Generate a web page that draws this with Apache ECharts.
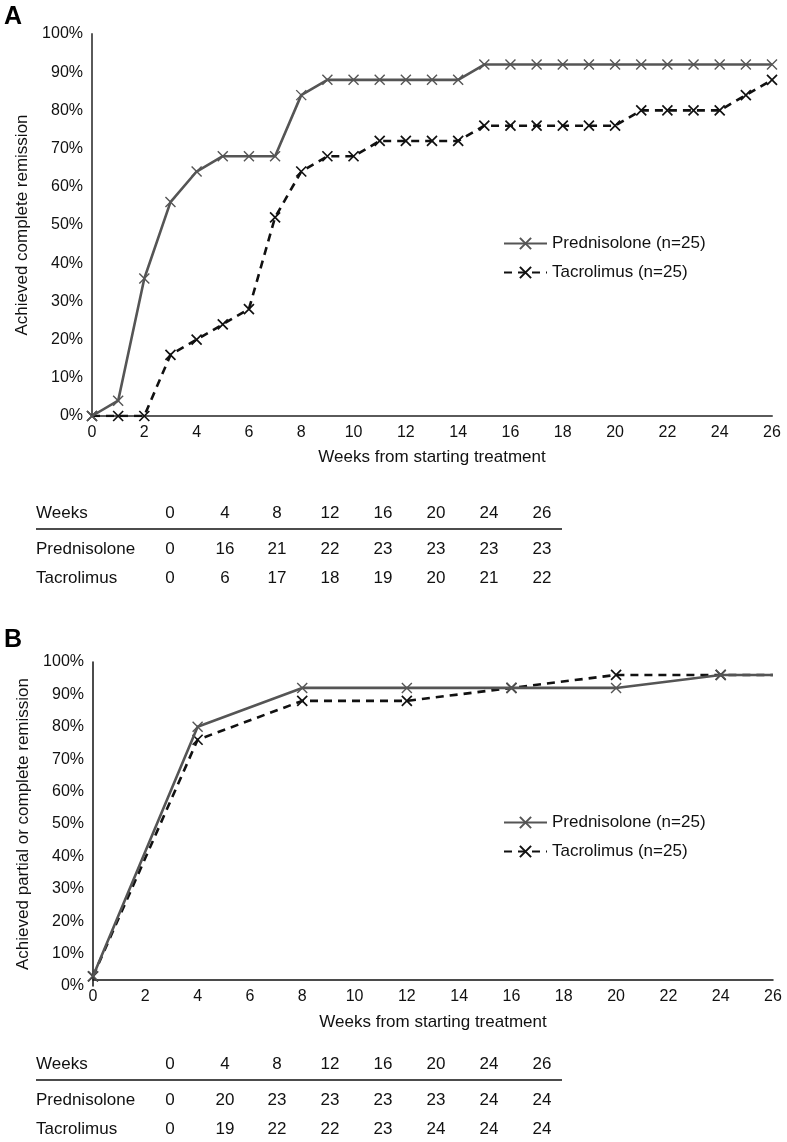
<!DOCTYPE html>
<html><head><meta charset="utf-8">
<script src="https://cdn.jsdelivr.net/npm/echarts@6/dist/echarts.min.js"></script>
<style>html,body{margin:0;padding:0;background:#fff}#c{width:787px;height:1142px}</style>
</head><body><div id="c"></div><script>
// ---- Data ----
const weeksA = [0,1,2,3,4,5,6,7,8,9,10,11,12,13,14,15,16,17,18,19,20,21,22,23,24,25,26];
const predA = [0,4,36,56,64,68,68,68,84,88,88,88,88,88,88,92,92,92,92,92,92,92,92,92,92,92,92];
const tacA  = [0,0,0,16,20,24,28,52,64,68,68,72,72,72,72,76,76,76,76,76,76,80,80,80,80,84,88];
const weeksB = [0,4,8,12,16,20,24,26];
const predB = [3,80,92,92,92,92,96,96];
const tacB  = [3,76,88,88,92,96,96,96];
const markedB = [true,true,true,true,true,true,true,false];
const seriesNames = ['Prednisolone (n=25)', 'Tacrolimus (n=25)'];
const tableWeeks = [0,4,8,12,16,20,24,26];
const tableRowNames = ['Prednisolone', 'Tacrolimus'];
const tableA = [[0,16,21,22,23,23,23,23],[0,6,17,18,19,20,21,22]];
const tableB = [[0,20,23,23,23,23,24,24],[0,19,22,22,23,24,24,24]];
const titleA = 'Achieved complete remission';
const titleB = 'Achieved partial or complete remission';
const xTitle = 'Weeks from starting treatment';

// ---- Layout/style ----
const FONT = "'Liberation Sans', Arial, Helvetica, sans-serif";
const colX = [170,225,277,330,383,436,489,542];
const XMARK = 'path://M0,0L10,10M10,0L0,10';
const PRED_COLOR = '#555555';
const TAC_COLOR = '#111111';

function pairs(xs, ys){ return xs.map((x,i)=>[x, ys[i]]); }

function axisPair(gridIndex, axisColor, axisW, xOffset){
  return {
    x: {
      type:'value', gridIndex, min:0, max:26, interval:2, offset:xOffset,
      axisLine:{show:true, onZero:false, lineStyle:{color:axisColor, width:axisW}},
      axisTick:{show:false}, splitLine:{show:false},
      axisLabel:{color:'#111', fontSize:16, fontFamily:FONT, margin:9},
      name:xTitle, nameLocation:'middle', nameGap:33,
      nameTextStyle:{color:'#111', fontSize:17, fontFamily:FONT}
    },
    y: {
      type:'value', gridIndex, min:0, max:100, interval:10,
      axisLine:{show:true, lineStyle:{color:axisColor, width:axisW}},
      axisTick:{show:false}, splitLine:{show:false},
      axisLabel:{color:'#111', fontSize:16, fontFamily:FONT, margin:9, formatter:'{value}%'},
      nameLocation:'middle', nameGap:54,
      nameTextStyle:{color:'#111', fontSize:17, fontFamily:FONT}
    }
  };
}
const axA = axisPair(0, '#5a5a5a', 2, 0);
const axB = axisPair(1, '#111111', 1.5, -6);
axA.y.name = titleA; axB.y.name = titleB;
axB.x.nameGap = 34;

function predStyle(){ return {
  type:'line', symbol:XMARK, symbolSize:10, symbolKeepAspect:true,
  lineStyle:{color:PRED_COLOR, width:2.6},
  itemStyle:{color:PRED_COLOR, borderColor:PRED_COLOR, borderWidth:1.4},
  z:3
};}
function tacStyle(){ return {
  type:'line', symbol:XMARK, symbolSize:10, symbolKeepAspect:true,
  lineStyle:{color:TAC_COLOR, width:2.6, type:[8,6]},
  itemStyle:{color:TAC_COLOR, borderColor:TAC_COLOR, borderWidth:1.7},
  z:2
};}

const series = [
  Object.assign(predStyle(), {name:seriesNames[0], xAxisIndex:0, yAxisIndex:0, data:pairs(weeksA, predA)}),
  Object.assign(tacStyle(), {name:seriesNames[1], xAxisIndex:0, yAxisIndex:0, data:pairs(weeksA, tacA)}),
  Object.assign(predStyle(), {name:seriesNames[0], xAxisIndex:1, yAxisIndex:1,
    data:weeksB.map((w,i)=> markedB[i] ? [w, predB[i]] : {value:[w, predB[i]], symbol:'none'})}),
  Object.assign(tacStyle(), {name:seriesNames[1], xAxisIndex:1, yAxisIndex:1,
    data:weeksB.map((w,i)=> markedB[i] ? [w, tacB[i]] : {value:[w, tacB[i]], symbol:'none'})})
];

function legendAt(top){
  return {
    data:seriesNames, orient:'vertical', left:498, top:top,
    itemWidth:43, itemHeight:14, itemGap:12, selectedMode:false,
    textStyle:{color:'#111', fontSize:17, fontFamily:FONT}
  };
}

function tableGraphics(topY, rows){
  const g = [];
  const rowYs = [topY, topY+36, topY+65];
  g.push({type:'text', x:36, y:rowYs[0], style:{text:'Weeks', fill:'#111', font:'17px '+FONT, textAlign:'left', textVerticalAlign:'middle'}});
  tableWeeks.forEach((w,i)=> g.push({type:'text', x:colX[i], y:rowYs[0], style:{text:String(w), fill:'#111', font:'17px '+FONT, textAlign:'center', textVerticalAlign:'middle'}}));
  g.push({type:'line', shape:{x1:36, y1:topY+16, x2:562, y2:topY+16}, style:{stroke:'#111', lineWidth:1.5}});
  rows.forEach((r,ri)=>{
    g.push({type:'text', x:36, y:rowYs[ri+1], style:{text:tableRowNames[ri], fill:'#111', font:'17px '+FONT, textAlign:'left', textVerticalAlign:'middle'}});
    r.forEach((v,i)=> g.push({type:'text', x:colX[i], y:rowYs[ri+1], style:{text:String(v), fill:'#111', font:'17px '+FONT, textAlign:'center', textVerticalAlign:'middle'}}));
  });
  return g;
}

const graphics = [
  {type:'text', x:4, y:17, style:{text:'A', fill:'#000', font:'bold 25px '+FONT, textVerticalAlign:'middle'}},
  {type:'text', x:4, y:640, style:{text:'B', fill:'#000', font:'bold 25px '+FONT, textVerticalAlign:'middle'}}
].concat(tableGraphics(513, tableA), tableGraphics(1064, tableB));

const chart = echarts.init(document.getElementById('c'), null, {renderer:'canvas'});
chart.setOption({
  animation:false,
  backgroundColor:'#fff',
  grid:[
    {left:92, top:34, width:680, height:382},
    {left:93, top:662, width:680, height:324}
  ],
  xAxis:[axA.x, axB.x],
  yAxis:[axA.y, axB.y],
  legend:[legendAt(230), legendAt(809)],
  series:series,
  graphic:graphics
});
</script></body></html>
